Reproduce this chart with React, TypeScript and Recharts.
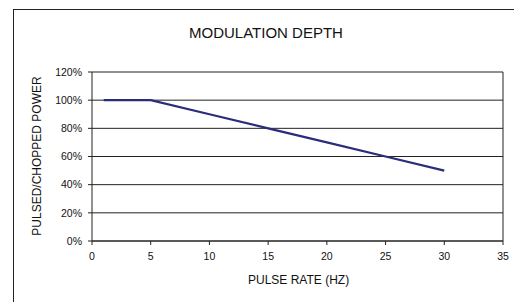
import React from 'react';
import {
  LineChart,
  Line,
  XAxis,
  YAxis,
  CartesianGrid,
  ReferenceLine,
} from 'recharts';

const pulseRates = [1, 5, 10, 15, 20, 25, 30];
const powerPct = [100, 100, 90, 80, 70, 60, 50];
const xTicks = [0, 5, 10, 15, 20, 25, 30, 35];
const yTicks = [0, 20, 40, 60, 80, 100, 120];

const chartData = pulseRates.map((rate, i) => ({ rate, power: powerPct[i] }));

const font = '"Liberation Sans", Arial, sans-serif';

export default function App() {
  return (
    <div style={{ position: 'absolute', left: 0, top: 0, width: 514, height: 302, overflow: 'hidden', background: '#fff', fontFamily: font }}>
      {/* outer frame, cut off on the right and bottom */}
      <div style={{ position: 'absolute', left: 13, top: 9, width: 600, height: 400, border: '1px solid #222' }} />
      <div style={{ position: 'absolute', left: 0, width: 532, top: 24, textAlign: 'center', fontSize: 15, color: '#111' }}>
        MODULATION DEPTH
      </div>
      <div
        style={{
          position: 'absolute', left: 37, top: 156, fontSize: 12, color: '#111', whiteSpace: 'nowrap',
          transform: 'translate(-50%, -50%) rotate(-90deg)',
        }}
      >
        PULSED/CHOPPED POWER
      </div>
      <div style={{ position: 'absolute', left: 248, top: 273, fontSize: 12, color: '#111', whiteSpace: 'nowrap' }}>
        PULSE RATE (HZ)
      </div>
      <div style={{ position: 'absolute', left: 0, top: 0 }}>
        <LineChart width={514} height={302} data={chartData} margin={{ top: 72, right: 11, left: 32, bottom: 31 }}>
          <CartesianGrid vertical={false} stroke="#222" strokeWidth={1} />
          <XAxis
            dataKey="rate"
            type="number"
            domain={[0, 35]}
            ticks={xTicks}
            height={30}
            stroke="#222"
            tickSize={4}
            tickMargin={8}
            tick={{ fill: '#111', fontSize: 10.5, fontFamily: font }}
          />
          <YAxis
            type="number"
            domain={[0, 120]}
            ticks={yTicks}
            width={60}
            stroke="#222"
            tickSize={4}
            tickMargin={6}
            tickFormatter={(v: number) => `${v}%`}
            tick={{ fill: '#111', fontSize: 10.5, fontFamily: font }}
          />
          <ReferenceLine x={35} stroke="#222" />
          <Line
            type="linear"
            dataKey="power"
            stroke="#2a2d7c"
            strokeWidth={2.2}
            dot={false}
            isAnimationActive={false}
          />
        </LineChart>
      </div>
    </div>
  );
}
